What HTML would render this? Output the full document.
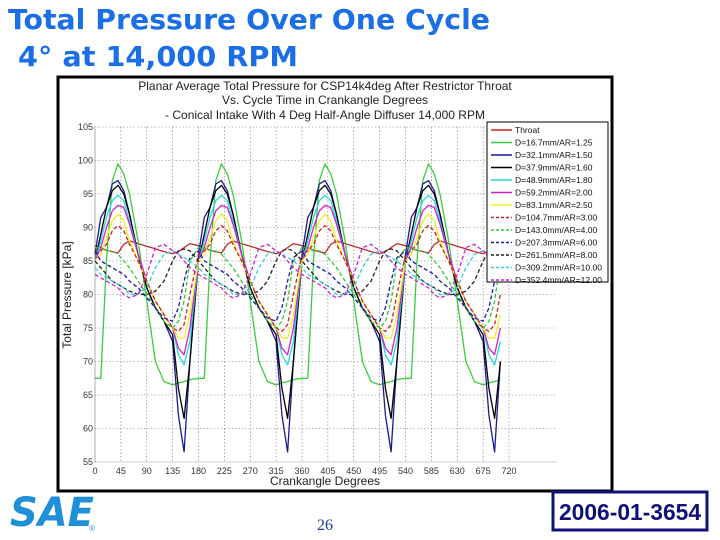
<!DOCTYPE html>
<html><head><meta charset="utf-8"><style>
html,body{margin:0;padding:0;background:#fff;width:720px;height:540px;overflow:hidden}
svg{display:block}
</style></head><body>
<svg id="s" width="720" height="540" viewBox="0 0 720 540" xmlns="http://www.w3.org/2000/svg">
<text x="8" y="29" font-family="DejaVu Sans, sans-serif" font-weight="bold" font-size="28" fill="#1a6ee6" textLength="482" lengthAdjust="spacingAndGlyphs">Total Pressure Over One Cycle</text>
<text x="18" y="66" font-family="DejaVu Sans, sans-serif" font-weight="bold" font-size="28" fill="#1a6ee6" textLength="280" lengthAdjust="spacingAndGlyphs">4° at 14,000 RPM</text>
<rect x="58" y="77" width="554" height="414" fill="#fff" stroke="#000" stroke-width="3"/>
<g font-family="Liberation Sans, sans-serif" font-size="12" fill="#222" text-anchor="middle">
<text x="325" y="90">Planar Average Total Pressure for CSP14k4deg After Restrictor Throat</text>
<text x="325" y="104">Vs. Cycle Time in Crankangle Degrees</text>
<text x="325" y="119">- Conical Intake With 4 Deg Half-Angle Diffuser 14,000 RPM</text>
</g>
<g id="grid"></g>
<g id="series"></g>
<g id="axes" font-family="Liberation Sans, sans-serif" font-size="9" fill="#333"></g>
<text x="0" y="0" transform="translate(71,295) rotate(-90)" text-anchor="middle" font-family="Liberation Sans, sans-serif" font-size="12" fill="#222">Total Pressure [kPa]</text>
<text x="325" y="485" text-anchor="middle" font-family="Liberation Sans, sans-serif" font-size="12" fill="#222">Crankangle Degrees</text>
<g id="legend"></g>
<g>
<text x="10" y="526" font-family="DejaVu Sans, sans-serif" font-weight="bold" font-style="italic" font-size="40" fill="#1e8fd8" textLength="84" lengthAdjust="spacingAndGlyphs">SAE</text>
<text x="89" y="531" font-family="Liberation Sans, sans-serif" font-size="8" fill="#1e8fd8">®</text>
</g>
<text x="325" y="530" text-anchor="middle" font-family="Liberation Serif, serif" font-size="16" fill="#1a3c90">26</text>
<rect x="553" y="492" width="154" height="38" fill="#fff" stroke="#10107a" stroke-width="3"/>
<text x="630" y="520" text-anchor="middle" font-family="Liberation Sans, sans-serif" font-weight="bold" font-size="23" fill="#10107a" textLength="142" lengthAdjust="spacingAndGlyphs">2006-01-3654</text>
</svg>
<script>
const NS='http://www.w3.org/2000/svg';
const angles=[0,10,20,30,40,50,60,75,90,105,120,135,145,155,165,180];
const names=['Throat','D=16.7mm/AR=1.25','D=32.1mm/AR=1.50','D=37.9mm/AR=1.60','D=48.9mm/AR=1.80','D=59.2mm/AR=2.00','D=83.1mm/AR=2.50','D=104.7mm/AR=3.00','D=143.0mm/AR=4.00','D=207.3mm/AR=6.00','D=261.5mm/AR=8.00','D=309.2mm/AR=10.00','D=352.4mm/AR=12.00'];
const sThroat=[87.3,87,86.6,86.4,86.2,87.5,88,87.6,87.2,86.8,86.4,86.1,86.4,87,87.6,87.3];
const s16=[67.5,67.5,85,97,99.5,98,95,88,79,70,67,66.5,66.8,67,67.3,67.5];
const s32=[86,91.5,93,96.5,97,95.5,92,86,81,78,76,73,62,56.5,70,86];
const s37=[85,89,93,95.5,96.3,95,92,86,81,78,76,74,66,61.5,70,85];
const s48=[85,88,91.5,94,94.8,94,91,86,82,79,77,75,71,69.5,73,85];
const s59=[85,87,90,92.5,93.3,93,90.5,86,82,79,77,75,72,71,75,85];
const s83=[85,86,88.5,91,92,91,88,85,82,79,77,75,73.5,73.5,77,85];
const s104=[86,86.5,87.5,89.5,90.3,89.5,87.5,85,82,79,77,75,74.5,75.5,80,86];
const s143=[87,87,86.5,86.5,86,85,84,82,80,78,76,75,76,79,85,87];
const s207=[86.5,85,84.5,84,83.5,83,82,81,79.5,78,76.5,76,78,82,85.5,86.5];
const s261=[85,84,83,82,81.5,81,80.5,80,80,80.5,82,85,86.5,86.8,86.5,85];
const s309=[84,83,82.5,82,81.5,81,80,80,81,84,86,86.5,86,85.5,85,84];
const s352=[83,82.5,82,81.5,81,80,79.5,80,83,87,87.5,86.5,86,85,84,83];
const allSeries=[sThroat,s16,s32,s37,s48,s59,s83,s104,s143,s207,s261,s309,s352];
const xTicks=[0,45,90,135,180,225,270,315,360,405,450,495,540,585,630,675,720];
const yTicks=[55,60,65,70,75,80,85,90,95,100,105];
const colors=['#c0282a','#3ccc3c','#1a1a90','#000','#22d8e0','#d020d0','#f0f020','#d02020','#30c830','#1a1ab0','#222','#30d0d8','#d020d0'];
const dashed=[false,false,false,false,false,false,false,true,true,true,true,true,true];
const X=a=>95+a*(414/720), Y=v=>127+(105-v)*(335/50);
const grid=document.getElementById('grid'), axes=document.getElementById('axes');
function mk(tag,attrs,parent){const e=document.createElementNS(NS,tag);for(const k in attrs)e.setAttribute(k,attrs[k]);parent.appendChild(e);return e;}
yTicks.forEach(v=>{
  const l=mk('line',{x1:95,x2:557,y1:Y(v),y2:Y(v),stroke:v===55?'#999':'#777','stroke-width':0.6,'stroke-dasharray':v===55?'':'1.5,2'},grid);
  
  
  const t=mk('text',{x:93,y:Y(v)+3,'text-anchor':'end'},axes);t.textContent=v;
  
  
});
xTicks.forEach(a=>{
  const l=mk('line',{x1:X(a),x2:X(a),y1:127,y2:463,stroke:'#777','stroke-width':0.6,'stroke-dasharray':a===0?'':'1.5,2'},grid);
  
  
  const t=mk('text',{x:X(a),y:474,'text-anchor':'middle'},axes);t.textContent=a;
  
  
});
const sg=document.getElementById('series');
allSeries.forEach((s,i)=>{
  let pts=[];
  for(let p=0;p<4;p++){angles.forEach((a,j)=>{if(p>0&&j===0)return;const ang=a+p*180;if(ang<=715)pts.push(X(ang).toFixed(1)+','+Y(s[j]).toFixed(1));});}
  const pl=mk('polyline',{points:pts.join(' '),fill:'none',stroke:colors[i],'stroke-width':1.3,'stroke-dasharray':dashed[i]?'4,2.5':'','stroke-linejoin':'round'},sg);
  
  
});
const lg=document.getElementById('legend');
mk('rect',{x:487,y:122,width:121,height:160,fill:'#fff',stroke:'#000','stroke-width':1},lg);
names.forEach((n,i)=>{
  const y=130+i*12.5;
  const l=mk('line',{x1:491,x2:512,y1:y,y2:y,stroke:colors[i],'stroke-width':1.5,'stroke-dasharray':dashed[i]?'3,2':''},lg);
  
  
  const t=mk('text',{x:515,y:y+3,'font-family':'Liberation Sans, sans-serif','font-size':8.5,fill:'#111'},lg);t.textContent=n;
  
  
});
</script>
</body></html>
